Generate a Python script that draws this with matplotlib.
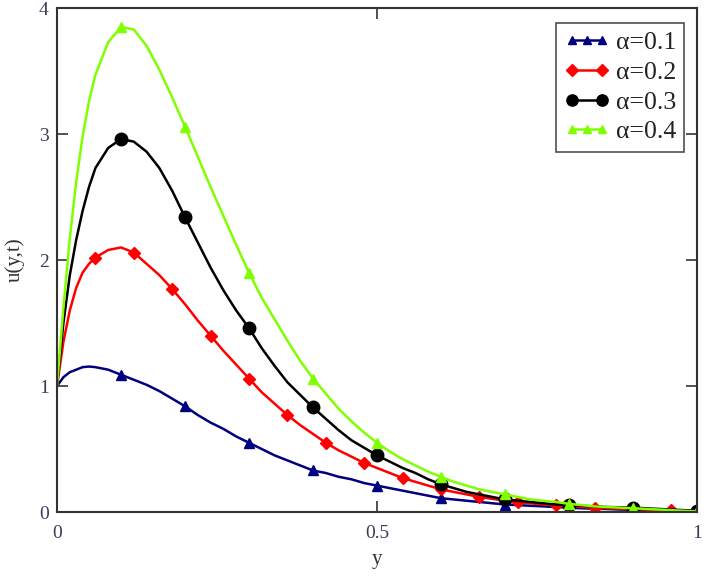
import matplotlib
matplotlib.use("Agg")
import matplotlib.pyplot as plt
from matplotlib.legend_handler import HandlerLine2D
import numpy as np

plt.rcParams['font.family'] = ['Liberation Serif', 'DejaVu Serif']

# y values (horizontal axis)
y_vals = [0, 0.01, 0.02, 0.03, 0.04, 0.05, 0.06, 0.08, 0.10, 0.12, 0.14, 0.16, 0.18, 0.20,
          0.22, 0.24, 0.26, 0.28, 0.30, 0.32, 0.34, 0.36, 0.38, 0.40,
          0.42, 0.44, 0.46, 0.48, 0.50, 0.52, 0.54, 0.56, 0.58, 0.60,
          0.62, 0.64, 0.66, 0.68, 0.70, 0.72, 0.74, 0.76, 0.78, 0.80,
          0.82, 0.84, 0.86, 0.88, 0.90, 0.92, 0.94, 0.96, 0.98, 1.00]

# u(y,t) for each alpha
u_a01 = [1.0, 1.07, 1.11, 1.13, 1.15, 1.155, 1.15, 1.13, 1.09, 1.05, 1.01, 0.96, 0.90, 0.84,
         0.77, 0.71, 0.66, 0.60, 0.55, 0.50, 0.45, 0.41, 0.37, 0.33,
         0.31, 0.28, 0.26, 0.23, 0.21, 0.19, 0.17, 0.15, 0.13, 0.11,
         0.10, 0.09, 0.08, 0.07, 0.06, 0.055, 0.05, 0.045, 0.04, 0.035,
         0.03, 0.027, 0.024, 0.02, 0.018, 0.015, 0.012, 0.01, 0.008, 0.005]

u_a02 = [1.0, 1.35, 1.60, 1.78, 1.90, 1.97, 2.02, 2.08, 2.10, 2.06, 1.97, 1.88, 1.77, 1.65,
         1.52, 1.40, 1.28, 1.17, 1.06, 0.95, 0.86, 0.77, 0.69, 0.62,
         0.55, 0.49, 0.44, 0.39, 0.35, 0.31, 0.27, 0.24, 0.21, 0.18,
         0.16, 0.14, 0.12, 0.105, 0.09, 0.08, 0.07, 0.06, 0.055, 0.048,
         0.04, 0.035, 0.03, 0.027, 0.024, 0.02, 0.017, 0.015, 0.012, 0.01]

u_a03 = [1.0, 1.50, 1.88, 2.16, 2.39, 2.58, 2.73, 2.89, 2.96, 2.94, 2.86, 2.73, 2.55, 2.34,
         2.14, 1.94, 1.76, 1.60, 1.46, 1.30, 1.16, 1.03, 0.93, 0.83,
         0.74, 0.65, 0.57, 0.51, 0.45, 0.40, 0.35, 0.31, 0.26, 0.22,
         0.19, 0.16, 0.14, 0.12, 0.10, 0.09, 0.08, 0.07, 0.06, 0.055,
         0.05, 0.045, 0.04, 0.038, 0.035, 0.03, 0.025, 0.02, 0.015, 0.01]

u_a04 = [1.0, 1.62, 2.17, 2.62, 2.98, 3.26, 3.47, 3.73, 3.85, 3.83, 3.70, 3.51, 3.29, 3.06,
         2.82, 2.58, 2.35, 2.12, 1.90, 1.70, 1.53, 1.36, 1.20, 1.06,
         0.94, 0.82, 0.72, 0.63, 0.55, 0.48, 0.42, 0.37, 0.32, 0.28,
         0.24, 0.21, 0.18, 0.16, 0.14, 0.12, 0.10, 0.09, 0.08, 0.065,
         0.055, 0.045, 0.04, 0.035, 0.03, 0.025, 0.02, 0.015, 0.01, 0.005]

labels = ["\u03b1=0.1", "\u03b1=0.2", "\u03b1=0.3", "\u03b1=0.4"]

y_arr = np.array(y_vals)
# marker positions: every 0.1 for most curves, every 0.06 for the red one
mark_01 = [i for i, v in enumerate(y_arr) if v > 0 and abs(v / 0.1 - round(v / 0.1)) < 1e-6]
mark_006 = [i for i, v in enumerate(y_arr) if v > 0 and abs(v / 0.06 - round(v / 0.06)) < 1e-6]

fig = plt.figure(figsize=(7.08, 5.76), dpi=100)
ax = fig.add_axes([0.0805, 0.111, 0.904, 0.875])

l1, = ax.plot(y_arr, u_a01, color="#000080", lw=1.8, marker="^", ms=7, markevery=mark_01, label=labels[0])
l2, = ax.plot(y_arr, u_a02, color="#ff0000", lw=1.8, marker="D", ms=6.5, markevery=mark_006, label=labels[1])
l3, = ax.plot(y_arr, u_a03, color="#000000", lw=1.8, marker="o", ms=9, markevery=mark_01, label=labels[2])
l4, = ax.plot(y_arr, u_a04, color="#80ff00", lw=1.8, marker="^", ms=7, markevery=mark_01, label=labels[3])

ax.set_xlim(0, 1)
ax.set_ylim(0, 4)
ax.set_xticks([0, 0.5, 1])
ax.set_xticklabels(["0", "0.5", "1"])
ax.set_yticks([0, 1, 2, 3, 4])
ax.tick_params(direction="in", length=8, width=1.2, top=True, right=True,
               labelsize=14, labelcolor="#3a3a5a", color="#333333")
ax.tick_params(axis="x", pad=9)
ax.tick_params(axis="y", pad=6)
for s in ax.spines.values():
    s.set_color("#333333")
    s.set_linewidth(1.5)

ax.set_xlabel("y", fontsize=15, color="#333333", labelpad=6)
ax.set_ylabel("u(y,t)", fontsize=15, color="#333333", labelpad=10)

leg = ax.legend(handles=[l1, l2, l3, l4], loc="upper right", bbox_to_anchor=(0.98, 0.97),
                borderaxespad=0, fontsize=18.5, frameon=True, fancybox=False,
                edgecolor="#222222", handlelength=1.75, handletextpad=0.25,
                borderpad=0.32, labelspacing=0.26, markerscale=0.9,
                handler_map={l1: HandlerLine2D(numpoints=3), l2: HandlerLine2D(numpoints=2),
                             l3: HandlerLine2D(numpoints=2), l4: HandlerLine2D(numpoints=3)})
leg.get_frame().set_linewidth(1.2)
for t in leg.get_texts():
    t.set_color("#222222")

fig.savefig("out.png", dpi=100)
